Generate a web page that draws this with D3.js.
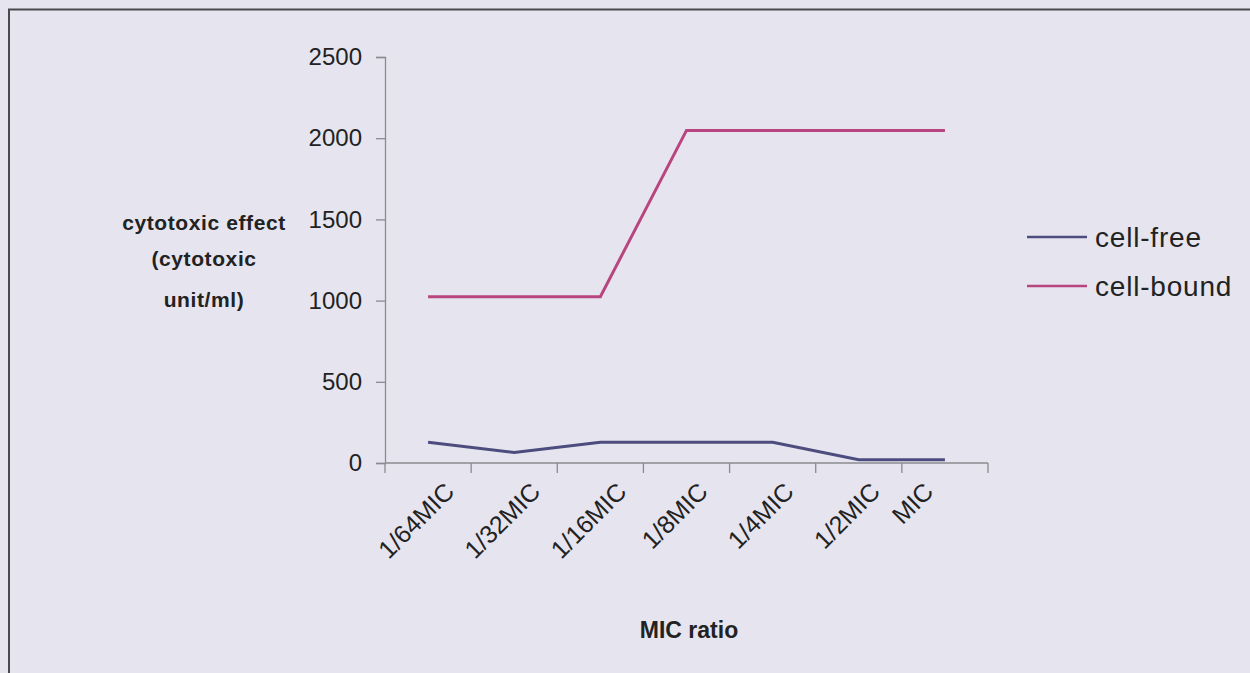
<!DOCTYPE html>
<html><head><meta charset="utf-8">
<script src="https://cdn.jsdelivr.net/npm/d3@7"></script>
<style>html,body{margin:0;padding:0;background:#e6e5ef;}svg{display:block;}</style>
</head><body>
<svg id="c" width="1250" height="673"></svg>
<script>
const categories = ["1/64MIC","1/32MIC","1/16MIC","1/8MIC","1/4MIC","1/2MIC","MIC"];
const cellFree = [128, 64, 128, 128, 128, 20, 20];
const cellBound = [1024, 1024, 1024, 2048, 2048, 2048, 2048];
const yTicks = [0, 500, 1000, 1500, 2000, 2500];
const seriesNames = ["cell-free", "cell-bound"];
const seriesColors = ["#4d4c7e", "#b8457f"];

(function(){
const svg = d3.select("#c");
svg.append("rect").attr("width",1250).attr("height",673).attr("fill","#e6e5ef");
// frame
svg.append("path").attr("d","M9,673 L9,9.5 L1250,9.5").attr("fill","none").attr("stroke","#4a4a4e").attr("stroke-width",2);

const pL=385, pR=988, pT=57, pB=463;
const x = d3.scaleBand().domain(categories).range([pL,pR]).padding(0);
const y = d3.scaleLinear().domain([0,2500]).range([pB,pT]);
const font = "Arial, 'Liberation Sans', sans-serif";

// y axis
const ya = svg.append("g").attr("transform",`translate(${pL},0)`)
  .call(d3.axisLeft(y).tickValues(yTicks).tickSize(9).tickPadding(14).tickFormat(d3.format("d")));
ya.select(".domain").attr("stroke","#8a8a90").attr("stroke-width",1.3);
ya.selectAll(".tick line").attr("stroke","#8a8a90").attr("stroke-width",1.3);
ya.selectAll("text").attr("font-family",font).attr("font-size",24).attr("fill","#222");

// x axis: ticks at category boundaries
const xa = svg.append("g").attr("transform",`translate(0,${pB})`);
xa.append("line").attr("x1",pL).attr("x2",pR).attr("stroke","#8a8a90").attr("stroke-width",1.3);
const bounds = categories.map(c=>x(c)).concat([pR]);
xa.selectAll("line.t").data(bounds).join("line").attr("class","t")
  .attr("x1",d=>d).attr("x2",d=>d).attr("y1",0).attr("y2",10).attr("stroke","#8a8a90").attr("stroke-width",1.3);
xa.selectAll("text").data(categories).join("text")
  .attr("text-anchor","middle").attr("dy","0.35em")
  .attr("font-family",font).attr("font-size",25).attr("fill","#222").text(d=>d)
  .each(function(d){
    const L = this.getComputedTextLength();
    const cx = x(d)+x.bandwidth()/2 - 12 - Math.max(0, 80-L)*0.6;
    const cy = 24 + 0.354*L;
    d3.select(this).attr("transform",`translate(${cx},${cy}) rotate(-45)`);
  });

// lines
const line = d3.line().x((d,i)=>x(categories[i])+x.bandwidth()/2).y(d=>y(d));
[cellFree, cellBound].forEach((s,k)=>{
  svg.append("path").datum(s).attr("d",line).attr("fill","none")
    .attr("stroke",seriesColors[k]).attr("stroke-width",3);
});

// y title
const yt = svg.append("text").attr("font-family",font).attr("font-size",21).attr("font-weight","bold")
  .attr("fill","#222").attr("text-anchor","middle").attr("letter-spacing","0.6px");
["cytotoxic effect","(cytotoxic","unit/ml)"].forEach((t,i)=>{
  yt.append("tspan").attr("x",204).attr("y",[230,266,307][i]).text(t);
});

// x title
svg.append("text").attr("x",689).attr("y",638).attr("text-anchor","middle")
  .attr("font-family",font).attr("font-size",23).attr("font-weight","bold").attr("fill","#222").text("MIC ratio");

// legend
seriesNames.forEach((n,i)=>{
  const ly = [237,286][i];
  svg.append("line").attr("x1",1027).attr("x2",1087).attr("y1",ly).attr("y2",ly)
    .attr("stroke",seriesColors[i]).attr("stroke-width",2.5);
  svg.append("text").attr("x",1095).attr("y",ly).attr("dy","0.35em")
    .attr("font-family",font).attr("font-size",28).attr("fill","#222").attr("letter-spacing","0.8px").text(n);
});
})();
</script>
</body></html>
